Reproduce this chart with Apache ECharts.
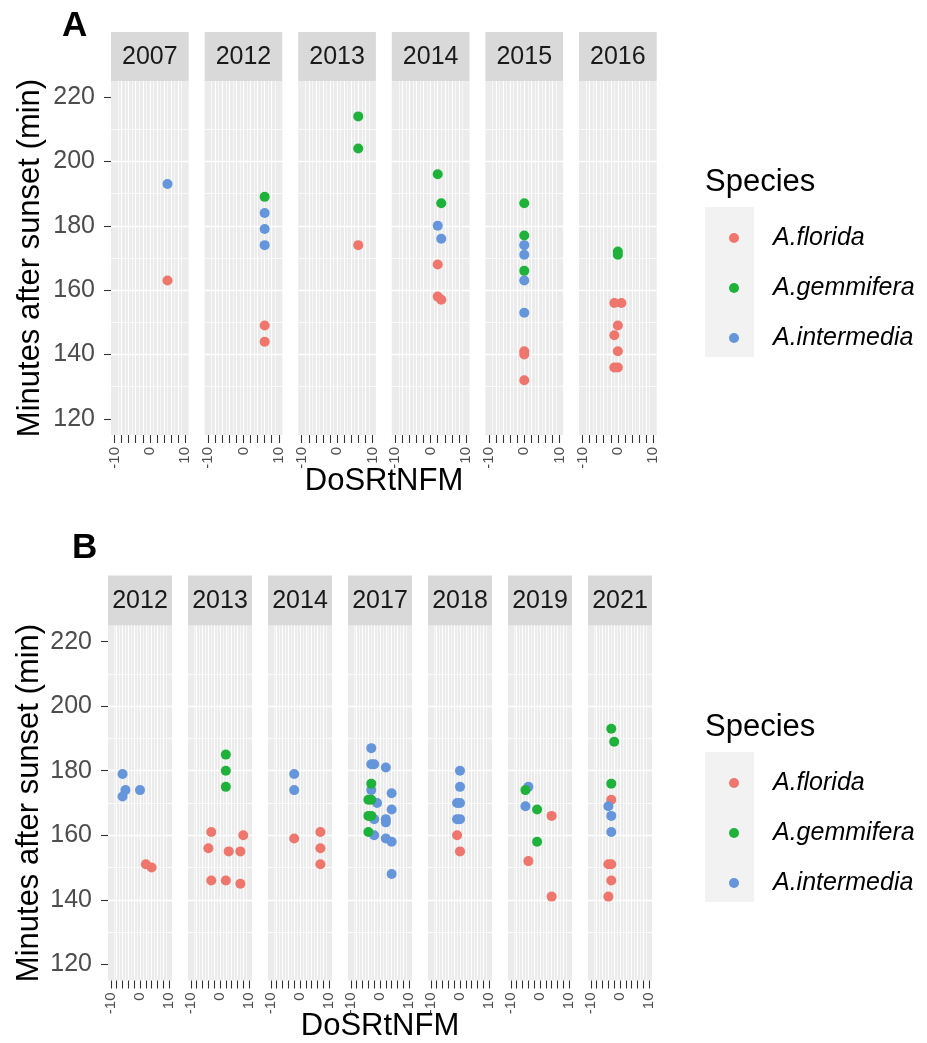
<!DOCTYPE html>
<html><head><meta charset="utf-8">
<script src="https://cdn.jsdelivr.net/npm/echarts@6/dist/echarts.min.js"></script>
<style>html,body{margin:0;padding:0;background:#fff}#c{width:927px;height:1043px}</style>
</head><body><div id="c"></div>
<script>
// ---------------- DATA ----------------
const speciesNames = ['A.florida', 'A.gemmifera', 'A.intermedia'];
const yearsA = ['2007', '2012', '2013', '2014', '2015', '2016'];
const yearsB = ['2012', '2013', '2014', '2017', '2018', '2019', '2021'];
const xTickVals = [-10, -8, -6, -4, -2, 0, 2, 4, 6, 8, 10];
const xLabelVals = [-10, 0, 10];
const yTickVals = [120, 140, 160, 180, 200, 220];

// [year, DoSRtNFM, minutes after sunset]
const floridaA = [
  ['2007', 5, 163],
  ['2012', 6, 149], ['2012', 6, 144],
  ['2013', 6, 174],
  ['2014', 2, 168], ['2014', 2, 158], ['2014', 3, 157],
  ['2015', 0, 141], ['2015', 0, 140], ['2015', 0, 132],
  ['2016', -1, 156], ['2016', 1, 156], ['2016', 0, 149], ['2016', -1, 146], ['2016', 0, 141], ['2016', -1, 136], ['2016', 0, 136]
];
const gemmiferaA = [
  ['2012', 6, 189],
  ['2013', 6, 214], ['2013', 6, 204],
  ['2014', 2, 196], ['2014', 3, 187],
  ['2015', 0, 187], ['2015', 0, 177], ['2015', 0, 166],
  ['2016', 0, 172], ['2016', 0, 171]
];
const intermediaA = [
  ['2007', 5, 193],
  ['2012', 6, 184], ['2012', 6, 179], ['2012', 6, 174],
  ['2014', 2, 180], ['2014', 3, 176],
  ['2015', 0, 174], ['2015', 0, 171], ['2015', 0, 163], ['2015', 0, 153]
];
const floridaB = [
  ['2012', 2, 151], ['2012', 4, 150],
  ['2013', -3, 161], ['2013', -4, 156], ['2013', 3, 155], ['2013', 7, 155], ['2013', 8, 160], ['2013', -3, 146], ['2013', 2, 146], ['2013', 7, 145],
  ['2014', -2, 159], ['2014', 7, 161], ['2014', 7, 156], ['2014', 7, 151],
  ['2018', -1, 160], ['2018', 0, 155],
  ['2019', 4, 166], ['2019', -4, 152], ['2019', 4, 141],
  ['2021', -3, 171], ['2021', -4, 151], ['2021', -3, 151], ['2021', -3, 146], ['2021', -4, 141]
];
const gemmiferaB = [
  ['2013', 2, 185], ['2013', 2, 180], ['2013', 2, 175],
  ['2017', -3, 176], ['2017', -4, 171], ['2017', -3, 171], ['2017', -4, 166], ['2017', -3, 166], ['2017', -4, 161],
  ['2019', -5, 174], ['2019', -1, 168], ['2019', -1, 158],
  ['2021', -3, 193], ['2021', -2, 189], ['2021', -3, 176]
];
const intermediaB = [
  ['2012', -6, 179], ['2012', -5, 174], ['2012', -6, 172], ['2012', 0, 174],
  ['2014', -2, 179], ['2014', -2, 174],
  ['2017', -3, 187], ['2017', -3, 182], ['2017', -2, 182], ['2017', 2, 181], ['2017', -3, 174], ['2017', 4, 173], ['2017', -1, 170],
  ['2017', 4, 168], ['2017', -2, 165], ['2017', 2, 165], ['2017', 2, 164], ['2017', -2, 160], ['2017', 2, 159], ['2017', 4, 158], ['2017', 4, 148],
  ['2018', 0, 180], ['2018', 0, 175], ['2018', -1, 170], ['2018', 0, 170], ['2018', -1, 165], ['2018', 0, 165],
  ['2019', -4, 175], ['2019', -5, 169],
  ['2021', -4, 169], ['2021', -3, 166], ['2021', -3, 161]
];

// ---------------- STYLE / LAYOUT ----------------
const FONT = '"Liberation Sans", Arial, sans-serif';
const COLORS = {'A.florida': '#EF766C', 'A.gemmifera': '#1FB23B', 'A.intermedia': '#6595DA'};
const DRAW_ORDER = [0, 2, 1]; // florida, intermedia, gemmifera (top)

const rows = [
  {years: yearsA, data: [floridaA, gemmiferaA, intermediaA], left0: 111, pitch: 93.6, width: 77.7,
   top: 81, height: 354, stripH: 49, label: 'A', labelX: 62, labelY: 26,
   titleX: 384, titleY: 481, ytitleX: 30, ytitleY: 258, legendTop: 218, keyTop: 207, speciesY: 182},
  {years: yearsB, data: [floridaB, gemmiferaB, intermediaB], left0: 108, pitch: 80, width: 64,
   top: 625.5, height: 355, stripH: 50, label: 'B', labelX: 72, labelY: 548,
   titleX: 380, titleY: 1026, ytitleX: 29, ytitleY: 803, legendTop: 763, keyTop: 752, speciesY: 727}
];

const grid = [], xAxis = [], yAxis = [], series = [], graphic = [], legend = [];
let g = 0;
rows.forEach(function (row) {
  row.years.forEach(function (year, i) {
    const left = row.left0 + i * row.pitch;
    const first = i === 0;
    grid.push({left: left, top: row.top, width: row.width, height: row.height, show: true,
      backgroundColor: '#EBEBEB', borderWidth: 0, containLabel: false});
    xAxis.push({
      gridIndex: g, type: 'value', position: 'bottom', min: -11, max: 11, minInterval: 2, maxInterval: 2,
      axisLine: {show: false, onZero: false},
      axisTick: {show: true, customValues: xTickVals, length: 8, lineStyle: {color: '#333333', width: 1.1}},
      axisLabel: {show: true, customValues: xLabelVals, rotate: 90, fontSize: 15, color: '#4D4D4D', margin: 12, fontFamily: FONT},
      splitLine: {show: true, showMinLine: false, showMaxLine: false, lineStyle: {color: '#FFFFFF', width: 1.1}},
      minorTick: {show: false, splitNumber: 2},
      minorSplitLine: {show: true, lineStyle: {color: '#FFFFFF', width: 0.6}}
    });
    yAxis.push({
      gridIndex: g, type: 'value', position: 'left', min: 115, max: 225, minInterval: 20, maxInterval: 20,
      axisLine: {show: false, onZero: false},
      axisTick: {show: first, customValues: yTickVals, length: 7, lineStyle: {color: '#333333', width: 1.1}},
      axisLabel: {show: first, customValues: yTickVals, fontSize: 25, color: '#4D4D4D', margin: 16, fontFamily: FONT},
      splitLine: {show: true, showMinLine: false, showMaxLine: false, lineStyle: {color: '#FFFFFF', width: 1.4}},
      minorTick: {show: false, splitNumber: 2},
      minorSplitLine: {show: true, lineStyle: {color: '#FFFFFF', width: 0.7}}
    });
    DRAW_ORDER.forEach(function (s) {
      const name = speciesNames[s];
      series.push({
        type: 'scatter', name: name, xAxisIndex: g, yAxisIndex: g,
        symbol: 'circle', symbolSize: 10, silent: true,
        itemStyle: {color: COLORS[name], opacity: 1},
        data: row.data[s].filter(function (d) { return d[0] === year; }).map(function (d) { return [d[1], d[2]]; })
      });
    });
    // strip
    graphic.push({type: 'rect', shape: {x: left, y: row.top - row.stripH, width: row.width, height: row.stripH},
      style: {fill: '#D9D9D9'}, silent: true});
    graphic.push({type: 'text', x: left + row.width / 2, y: row.top - row.stripH / 2 + 1,
      style: {text: year, font: '25px ' + FONT, fill: '#1A1A1A', align: 'center', verticalAlign: 'middle'}, silent: true});
    g++;
  });
  // panel letter
  graphic.push({type: 'text', x: row.labelX, y: row.labelY,
    style: {text: row.label, font: 'bold 35px ' + FONT, fill: '#000', align: 'left', verticalAlign: 'middle'}, silent: true});
  // axis titles
  graphic.push({type: 'text', x: row.titleX, y: row.titleY,
    style: {text: 'DoSRtNFM', font: '31px ' + FONT, fill: '#000', align: 'center', verticalAlign: 'middle'}, silent: true});
  graphic.push({type: 'text', x: row.ytitleX, y: row.ytitleY, rotation: Math.PI / 2,
    style: {text: 'Minutes after sunset (min)', font: '31px ' + FONT, fill: '#000', align: 'center', verticalAlign: 'middle'}, silent: true});
  // legend title + key background
  graphic.push({type: 'text', x: 705, y: row.speciesY,
    style: {text: 'Species', font: '31px ' + FONT, fill: '#000', align: 'left', verticalAlign: 'middle'}, silent: true});
  graphic.push({type: 'rect', z: -1, shape: {x: 705, y: row.keyTop, width: 49, height: 150},
    style: {fill: '#F2F2F2'}, silent: true});
  legend.push({
    orient: 'vertical', left: 724, top: row.legendTop, itemWidth: 10, itemHeight: 10, itemGap: 20,
    icon: 'circle', selectedMode: false, data: speciesNames,
    textStyle: {fontSize: 25, fontStyle: 'italic', color: '#000', fontFamily: FONT, lineHeight: 30, padding: [0, 0, 0, 29]}
  });
});

const chart = echarts.init(document.getElementById('c'), null, {renderer: 'canvas'});
chart.setOption({
  animation: false,
  backgroundColor: '#FFFFFF',
  grid: grid, xAxis: xAxis, yAxis: yAxis, series: series, legend: legend, graphic: graphic
});
</script>
</body></html>
